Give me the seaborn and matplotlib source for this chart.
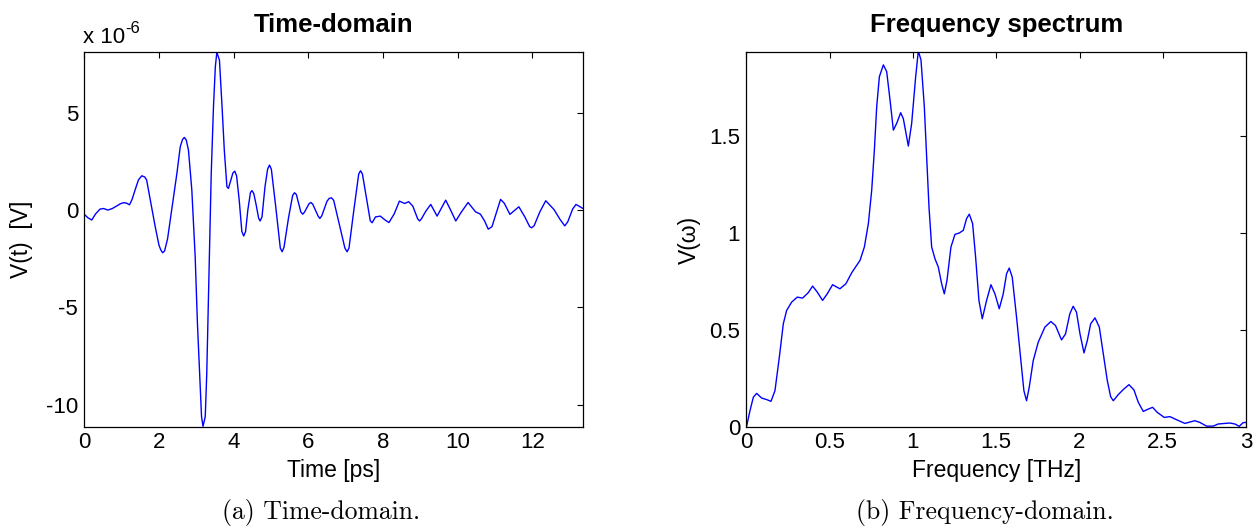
import numpy as np
import pandas as pd
import matplotlib
matplotlib.use("Agg")
import matplotlib.pyplot as plt
from matplotlib.ticker import FuncFormatter
import seaborn as sns

# ---------------- data ----------------
time_ps = [0.00, 0.10, 0.20, 0.30, 0.42, 0.52, 0.63, 0.75, 0.86, 0.96, 1.05, 1.13, 1.21,
           1.28, 1.36, 1.45, 1.54, 1.62, 1.67, 1.78, 1.90, 2.00, 2.05, 2.10, 2.15,
           2.23, 2.34, 2.48, 2.57, 2.63, 2.68, 2.73, 2.79, 2.88, 2.97, 3.03, 3.09,
           3.14, 3.18, 3.24, 3.28, 3.34, 3.40, 3.46, 3.51, 3.55, 3.62, 3.69, 3.75,
           3.82, 3.86, 3.92, 3.98, 4.03, 4.08, 4.15, 4.22, 4.27, 4.32, 4.38, 4.45,
           4.49, 4.54, 4.60, 4.67, 4.71, 4.76, 4.84, 4.91, 4.96, 5.01, 5.12, 5.25,
           5.30, 5.35, 5.47, 5.58, 5.63, 5.68, 5.80, 5.85, 5.90, 6.02, 6.07, 6.12,
           6.26, 6.31, 6.36, 6.50, 6.56, 6.62, 6.68, 6.85, 6.98, 7.04, 7.09, 7.22,
           7.35, 7.40, 7.45, 7.55, 7.66, 7.71, 7.80, 7.93, 8.05, 8.16, 8.30, 8.44,
           8.58, 8.69, 8.80, 8.93, 8.98, 9.03, 9.15, 9.28, 9.45, 9.55, 9.68, 9.80,
           9.95, 10.10, 10.28, 10.48, 10.61, 10.72, 10.82, 10.92, 11.05, 11.15,
           11.25, 11.40, 11.64, 11.80, 11.93, 11.98, 12.05, 12.20, 12.36, 12.58,
           12.75, 12.87, 12.95, 13.08, 13.17, 13.35]
voltage_uV = [-0.22, -0.40, -0.51, -0.20, 0.05, 0.08, 0.00, 0.08, 0.20, 0.32, 0.38, 0.36, 0.27,
              0.55, 1.03, 1.55, 1.76, 1.70, 1.54, 0.40, -0.86, -1.80, -2.05, -2.19, -2.10,
              -1.48, 0.00, 1.88, 3.25, 3.62, 3.73, 3.60, 3.08, 1.03, -2.40, -5.80, -8.40,
              -10.60, -11.10, -10.60, -8.40, -3.25, 1.88, 5.30, 7.36, 8.10, 7.70, 5.30, 3.08,
              1.20, 1.11, 1.50, 1.90, 2.00, 1.75, 0.50, -1.10, -1.33, -1.10, 0.00, 0.90,
              1.00, 0.85, 0.30, -0.42, -0.56, -0.35, 1.20, 2.10, 2.31, 2.10, 0.30, -1.95,
              -2.14, -1.90, -0.40, 0.75, 0.89, 0.80, -0.10, -0.21, -0.10, 0.33, 0.39, 0.30,
              -0.30, -0.43, -0.30, 0.45, 0.60, 0.63, 0.50, -0.90, -1.95, -2.14, -1.95, 0.00,
              1.85, 2.02, 1.85, 0.70, -0.55, -0.65, -0.35, -0.31, -0.50, -0.64, -0.20, 0.46,
              0.34, 0.43, 0.20, -0.45, -0.56, -0.45, -0.05, 0.29, -0.31, 0.05, 0.51, 0.05,
              -0.56, -0.10, 0.39, -0.09, -0.21, -0.55, -0.98, -0.85, -0.05, 0.55,
              0.35, -0.22, 0.17, -0.35, -0.85, -0.91, -0.80, -0.10, 0.48, 0.03,
              -0.50, -0.81, -0.60, 0.05, 0.29, 0.09]

freq_THz = [0.000, 0.021, 0.041, 0.061, 0.091, 0.121, 0.147, 0.171, 0.197, 0.221, 0.241,
            0.271, 0.305, 0.337, 0.371, 0.397, 0.425, 0.457, 0.485, 0.517, 0.561, 0.597,
            0.632, 0.682, 0.708, 0.732, 0.752, 0.768, 0.782, 0.798, 0.822, 0.842, 0.862,
            0.882, 0.902, 0.926, 0.942, 0.972, 0.992, 1.016, 1.032, 1.048, 1.068, 1.082,
            1.096, 1.112, 1.132, 1.152, 1.172, 1.188, 1.204, 1.228, 1.252, 1.278, 1.302,
            1.322, 1.338, 1.358, 1.376, 1.396, 1.416, 1.442, 1.468, 1.492, 1.518, 1.542,
            1.562, 1.578, 1.596, 1.622, 1.648, 1.666, 1.682, 1.698, 1.722, 1.752, 1.792,
            1.828, 1.856, 1.892, 1.916, 1.942, 1.962, 1.982, 2.003, 2.027, 2.047, 2.067,
            2.093, 2.119, 2.143, 2.167, 2.187, 2.203, 2.233, 2.267, 2.297, 2.327, 2.353,
            2.383, 2.413, 2.439, 2.467, 2.509, 2.543, 2.583, 2.633, 2.693, 2.723, 2.763,
            2.803, 2.833, 2.903, 2.933, 2.959, 2.983, 3.000]
spectrum = [0.000, 0.083, 0.152, 0.172, 0.148, 0.140, 0.131, 0.186, 0.358, 0.531, 0.600,
            0.643, 0.669, 0.664, 0.692, 0.726, 0.695, 0.652, 0.686, 0.733, 0.712, 0.738,
            0.795, 0.859, 0.928, 1.049, 1.221, 1.428, 1.652, 1.807, 1.868, 1.833, 1.687,
            1.531, 1.566, 1.621, 1.590, 1.449, 1.566, 1.807, 1.940, 1.893, 1.652, 1.393,
            1.135, 0.928, 0.867, 0.824, 0.738, 0.686, 0.755, 0.928, 0.993, 1.000, 1.014,
            1.075, 1.097, 1.049, 0.876, 0.652, 0.557, 0.652, 0.733, 0.686, 0.609, 0.686,
            0.790, 0.819, 0.772, 0.565, 0.341, 0.186, 0.134, 0.203, 0.341, 0.436, 0.514,
            0.543, 0.522, 0.448, 0.479, 0.583, 0.622, 0.591, 0.479, 0.381, 0.445, 0.531,
            0.562, 0.514, 0.376, 0.238, 0.155, 0.134, 0.166, 0.195, 0.217, 0.190, 0.126,
            0.079, 0.091, 0.100, 0.074, 0.048, 0.052, 0.036, 0.017, 0.031, 0.022, 0.003,
            0.003, 0.014, 0.019, 0.014, 0.002, 0.021, 0.022]

time_xticks = [0, 2, 4, 6, 8, 10, 12]
time_yticks_uV = [-10, -5, 0, 5]
freq_xticks = [0, 0.5, 1, 1.5, 2, 2.5, 3]
freq_yticks = [0, 0.5, 1, 1.5]

titles = ["Time-domain", "Frequency spectrum"]
xlabels = ["Time [ps]", "Frequency [THz]"]
ylabels = ["V(t)  [V]", "V(\u03c9)"]
captions = ["(a) Time-domain.", "(b) Frequency-domain."]

# ---------------- style ----------------
sns.set_theme(style="white")
plt.rcParams["font.family"] = ["Liberation Sans", "DejaVu Sans"]
plt.rcParams.update({
    "text.color": "black", "axes.labelcolor": "black", "axes.titlecolor": "black",
    "xtick.direction": "in", "ytick.direction": "in",
    "xtick.top": True, "ytick.right": True,
    "xtick.major.size": 4, "ytick.major.size": 4,
    "xtick.major.width": 0.8, "ytick.major.width": 0.8,
    "xtick.color": "black", "ytick.color": "black",
    "xtick.labelcolor": "black", "ytick.labelcolor": "black",
    "axes.edgecolor": "black", "axes.linewidth": 0.9,
    "xtick.labelsize": 16, "ytick.labelsize": 16,
    "xtick.major.pad": 3.5, "ytick.major.pad": 4.5,
    "axes.unicode_minus": False,
})

W, H = 1258, 527
fig = plt.figure(figsize=(W / 100, H / 100), dpi=100)

def box(l, r, t, b):
    return [l / W, 1 - b / H, (r - l) / W, (b - t) / H]

ax1 = fig.add_axes(box(84.3, 582.7, 52.3, 426.7))
ax2 = fig.add_axes(box(746.5, 1246.0, 52.3, 426.7))

df_t = pd.DataFrame({"t": time_ps, "v": np.array(voltage_uV) * 1e-6})
df_f = pd.DataFrame({"f": freq_THz, "s": spectrum})

sns.lineplot(data=df_t, x="t", y="v", ax=ax1, color="#0000ff", lw=1.0, estimator=None)
sns.lineplot(data=df_f, x="f", y="s", ax=ax2, color="#0000ff", lw=1.0, estimator=None)

ax1.set_xlim(0, 13.35)
ax1.set_ylim(-11.12e-6, 8.1e-6)
ax1.set_xticks(time_xticks)
ax1.set_yticks(np.array(time_yticks_uV) * 1e-6)
ax1.xaxis.set_major_formatter(FuncFormatter(lambda v, p: "%g" % v))
ax1.yaxis.set_major_formatter(FuncFormatter(lambda v, p: "%g" % round(v * 1e6, 6)))

ax2.set_xlim(0, 3)
ax2.set_ylim(0, 1.933)
ax2.set_xticks(freq_xticks)
ax2.set_yticks(freq_yticks)
fmt = FuncFormatter(lambda v, p: "%g" % v)
ax2.xaxis.set_major_formatter(fmt)
ax2.yaxis.set_major_formatter(fmt)

for ax, title, xl, yl, ylx in zip([ax1, ax2], titles, xlabels, ylabels, [-0.1256, -0.115]):
    for s in ax.spines.values():
        s.set_visible(True)
        s.set_color("black")
    ax.set_title(title, fontsize=18.5, fontweight="bold", y=1.054, pad=0)
    ax.set_xlabel(xl, fontsize=16.5, va="baseline")
    ax.xaxis.set_label_coords(0.5, -0.1343)
    ax.set_ylabel(yl, fontsize=16.5, va="center")
    ax.yaxis.set_label_coords(ylx, 0.5)

# exponent label of the time-domain axis
fig.text(83.3 / W, 1 - 43.3 / H, "x 10", fontsize=16, ha="left", va="baseline")
fig.text(125.5 / W, 1 - 33 / H, "-6", fontsize=12, ha="left", va="baseline")

# subfigure captions
fig.text(321 / W, 1 - 519 / H, captions[0], fontsize=18.5, family="cmr10",
         ha="center", va="baseline")
fig.text(985 / W, 1 - 519 / H, captions[1], fontsize=18.5, family="cmr10",
         ha="center", va="baseline")

fig.savefig("out.png", dpi=100)
